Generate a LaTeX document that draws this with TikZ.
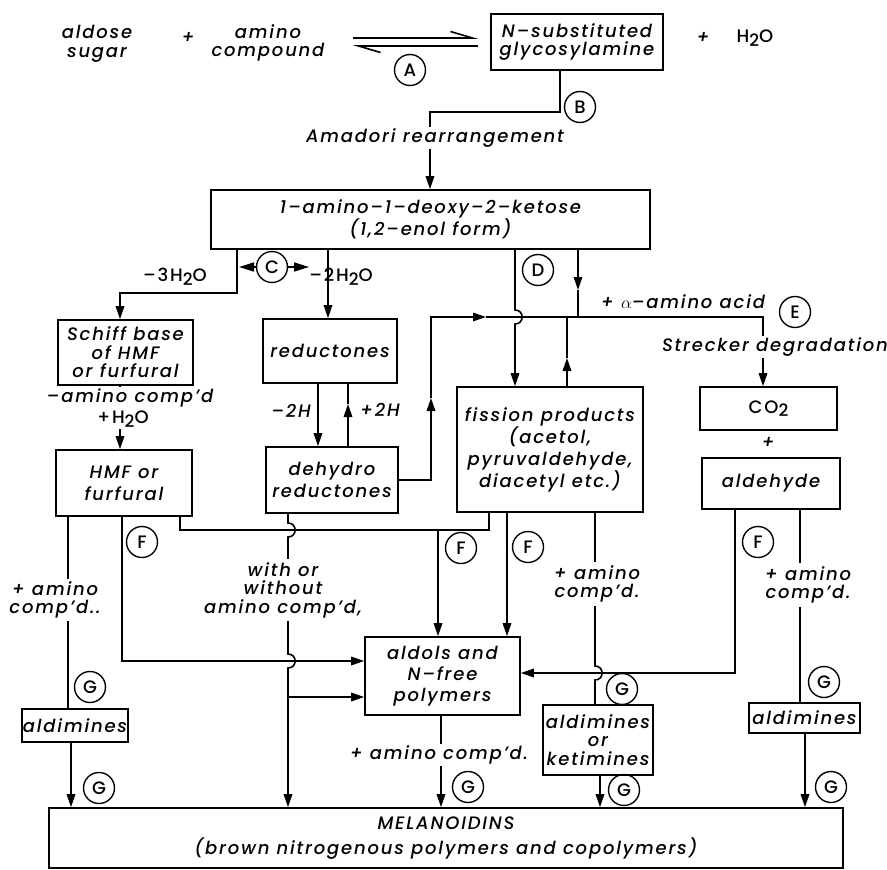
\documentclass[tikz,border=0pt]{standalone}
\usepackage{fontspec}
\setmainfont{Poppins}[LetterSpace=10, UprightFont=* Medium, ItalicFont=* Medium Italic]
\usetikzlibrary{arrows.meta}
\newcommand{\sbs}[1]{\raisebox{-0.35ex}{\fontsize{17}{17}\selectfont #1}}
\newcommand{\hho}{{\upshape H\sbs{2}O}}
\begin{document}
\begin{tikzpicture}[x=1pt,y=-1pt,
  font=\fontsize{18}{22}\selectfont\itshape,
  line width=1.6pt,
  >={Triangle[length=13pt,width=8.5pt]},
  box/.style={draw, inner sep=0pt, align=center, line width=1.6pt},
  lbl/.style={inner sep=1pt, align=center},
  wlbl/.style={lbl, fill=white, inner sep=2pt},
  tight/.style={font=\fontsize{18}{18.5}\selectfont\itshape},
  circ/.style={draw, circle, minimum size=31pt, inner sep=0pt, line width=1.4pt,
    font=\fontsize{18}{18}\selectfont\upshape},
  ctip/.style={-{Triangle[length=15pt,width=9pt]}},
  barb/.style={-{Straight Barb[left,length=22pt,width=13pt]}}]
\useasboundingbox (0,0) rectangle (887,870);
\fill[white] (0,0) rectangle (887,870);

% ---------- boxes ----------
\node[box, tight, minimum width=172pt, minimum height=56pt] (glyc) at (577,42) {N–substituted\\glycosylamine};
\node[box, minimum width=439pt, minimum height=59pt] (ketose) at (430.5,219.5) {1–amino–1–deoxy–2–ketose\\(1,2–enol form)};
\node[box, tight, minimum width=135pt, minimum height=65pt] (schiff) at (125.5,352.5) {Schiff base\\of HMF\\or furfural};
\node[box, minimum width=134pt, minimum height=64pt] (reduct) at (330,351) {reductones};
\node[box, minimum width=136pt, minimum height=66pt] (hmf) at (124,483) {HMF or\\furfural};
\node[box, minimum width=132pt, minimum height=66pt] (dehydro) at (332,480) {dehydro\\reductones};
\node[box, minimum width=186pt, minimum height=125pt] (fission) at (550,449.5) {fission products\\(acetol,\\pyruvaldehyde,\\diacetyl etc.)};
\node[box, minimum width=137pt, minimum height=43pt] (co2) at (768.5,408.5) {\upshape CO\sbs{2}};
\node[box, minimum width=138pt, minimum height=51pt] (aldehyde) at (771,483.5) {aldehyde};
\node[box, font=\fontsize{18}{21}\selectfont\itshape, minimum width=155pt, minimum height=78pt] (aldols) at (442.5,676) {aldols and\\N–free\\polymers};
\node[box, minimum width=106pt, minimum height=33pt] (aldimL) at (75,725.5) {aldimines};
\node[box, tight, minimum width=110pt, minimum height=70pt] (aldket) at (598,740) {aldimines\\or\\ketimines};
\node[box, minimum width=111pt, minimum height=30pt] (aldimR) at (804.5,718) {aldimines};
\node[box, font=\fontsize{18}{25}\selectfont\itshape, minimum width=794pt, minimum height=60pt] (melan) at (446,838) {MELANOIDINS\\(brown nitrogenous polymers and copolymers)};

% ---------- top row ----------
\node[lbl, tight] (aldose) at (97,44) {aldose\\sugar};
\node[lbl] (plus1) at (188,38) {+};
\node[lbl, tight] (amino) at (268,43) {amino\\compound};
\node[lbl] (plus2) at (703,38) {+};
\node[lbl] (water) at (755,38) {\hho};
\coordinate (eqL1) at (353,38); \coordinate (eqR1) at (478,38);
\coordinate (eqL2) at (353,46); \coordinate (eqR2) at (478,46);
\draw[barb] (eqL1) -- (eqR1);
\draw[barb] (eqR2) -- (eqL2);
\node[circ] (A) at (410,70) {A};

% ---------- Amadori ----------
\coordinate (b0) at (560,112);
\coordinate (bj) at (430,112);
\node[lbl] (amadori) at (435,138) {Amadori rearrangement};
\draw (glyc.south -| b0) -- (b0) -- (bj) -- (bj |- amadori.north);
\draw[->] (amadori.south -| bj) -- (ketose.north -| bj);
\node[circ] (B) at (580,107) {B};

% ---------- C branch ----------
\coordinate (c1) at (237,293);
\coordinate (s1) at (120,293);
\draw[->] (ketose.south -| c1) -- (c1) -- (s1) -- (schiff.north -| s1);
\coordinate (r0) at (328,300);
\draw[->] (ketose.south -| r0) -- (reduct.north -| r0);
\node[circ] (C) at (272,267) {C};
\coordinate (cl) at (239,267);
\coordinate (cr) at (309,267);
\draw[ctip] (C.west) -- (cl);
\draw[ctip] (C.east) -- (cr);
\node[lbl] (m3w) at (175,277) {\upshape –3\hho};
\node[lbl] (m2w) at (341,277) {\upshape –2\hho};

% Schiff -> HMF
\draw[->] (schiff.south -| s1) -- (hmf.north -| s1);
\node[wlbl] (minam) at (130,398) {–amino comp'd};
\node[wlbl] (plw) at (123,419) {\upshape +\hho};

% reductones <-> dehydro
\coordinate (rd1) at (318,400);
\draw[->] (reduct.south -| rd1) -- (dehydro.north -| rd1);
\coordinate (rd2) at (348,404);
\draw[->] (dehydro.north -| rd2) -- (rd2);
\draw (rd2) -- (reduct.south -| rd2);
\node[lbl] (m2h) at (291,411) {–2H};
\node[lbl] (p2h) at (380,410) {+2H};

% dehydro -> loop -> Strecker
\coordinate (h1) at (431,398);
\coordinate (h2) at (431,317);
\coordinate (h3) at (486,317);
\coordinate (h4) at (763,317);
\draw[->] (dehydro.east) -| (h1);
\draw[->] (h1) -- (h2) -- (h3);
\draw[->] (h3) -- (h4) -- (co2.north -| h4);
\node[wlbl] (strecker) at (775,347) {Strecker degradation};

% D branch
\coordinate (d1) at (515,310);
\coordinate (d2) at (515,324);
\draw[->] (ketose.south -| d1) -- (d1) .. controls (524.5,310) and (524.5,324) .. (d2) -- (fission.north -| d2);
\node[circ] (D) at (538,270) {D};

% E branch
\coordinate (e1) at (578,290);
\draw[->] (ketose.south -| e1) -- (e1);
\draw (e1) -- (e1 |- h4);
\coordinate (f1) at (567,358);
\draw[->] (fission.north -| f1) -- (f1);
\draw (f1) -- (f1 |- h4);
\node[lbl] (alpha) at (683,302) {+ $\alpha$–amino acid};
\node[circ] (E) at (795,312) {E};
\node[lbl] (plus3) at (768,443) {+};

% ---------- lower part ----------
% HMF left -> aldimines
\coordinate (l1) at (68,600);
\draw (hmf.south -| l1) -- (aldimL.north -| l1);
\node[wlbl, tight] (amL) at (55,600) {+ amino\\comp'd..};
\node[circ] (G1) at (90,687) {G};
\coordinate (l2) at (71,780);
\draw[->] (aldimL.south -| l2) -- (melan.north -| l2);
\node[circ] (G2) at (99,788) {G};

% HMF -> aldols (F)
\coordinate (l3) at (122,661);
\draw[->] (hmf.south -| l3) -- (l3) -- (aldols.west |- l3);
\node[circ] (F1) at (142,542) {F};

% HMF -- fission, branch to aldols
\coordinate (l4) at (180,530);
\coordinate (l5) at (489,530);
\draw (hmf.south -| l4) -- (l4) -- (l5) -- (fission.south -| l5);
\coordinate (l6) at (438,530);
\draw[->] (l6) -- (aldols.north -| l6);
\node[circ] (F2) at (461,548) {F};

% dehydro -> with or without -> melanoidins
\coordinate (w1) at (288,523);
\coordinate (w2) at (288,537);
\coordinate (w3) at (288,654);
\coordinate (w4) at (288,668);
\coordinate (w5) at (288,697);
\draw[->] (dehydro.south -| w1) -- (w1) .. controls (297.5,523) and (297.5,537) .. (w2)
   -- (w3) .. controls (297.5,654) and (297.5,668) .. (w4) -- (melan.north -| w4);
\draw[->] (w5) -- (aldols.west |- w5);
\node[wlbl, tight, inner sep=3pt] (wow) at (283,590) {with or\\without\\amino comp'd,};

% fission -> aldols (F)
\coordinate (f2) at (507,600);
\draw[->] (fission.south -| f2) -- (aldols.north -| f2);
\node[circ] (F3) at (528,547) {F};

% fission -> aldimines/ketimines
\coordinate (k1) at (595,666);
\coordinate (k2) at (595,680);
\draw (fission.south -| k1) -- (k1) .. controls (604.5,666) and (604.5,680) .. (k2) -- (aldket.north -| k2);
\node[wlbl, tight, inner sep=3pt] (amK) at (597,584) {+ amino\\comp'd.};
\node[circ] (G3) at (622,689) {G};
\coordinate (k3) at (600,790);
\draw[->] (aldket.south -| k3) -- (melan.north -| k3);
\node[circ] (G4) at (624,790) {G};

% aldehyde -> aldols (F)
\coordinate (a1) at (735,673);
\draw[->] (aldehyde.south -| a1) -- (a1) -- (aldols.east |- a1);
\node[circ] (F4) at (758,542) {F};

% aldehyde -> aldimines
\coordinate (a2) at (800,600);
\draw (aldehyde.south -| a2) -- (aldimR.north -| a2);
\node[wlbl, tight, inner sep=3pt] (amR) at (808,585) {+ amino\\comp'd.};
\node[circ] (G5) at (824,682) {G};
\coordinate (a3) at (805,780);
\draw[->] (aldimR.south -| a3) -- (melan.north -| a3);
\node[circ] (G6) at (831,787) {G};

% aldols -> melanoidins
\coordinate (p1) at (441,780);
\draw[->] (aldols.south -| p1) -- (melan.north -| p1);
\node[wlbl] (amA) at (439,755) {+ amino comp'd.};
\node[circ] (G7) at (468,787) {G};
\end{tikzpicture}
\end{document}
